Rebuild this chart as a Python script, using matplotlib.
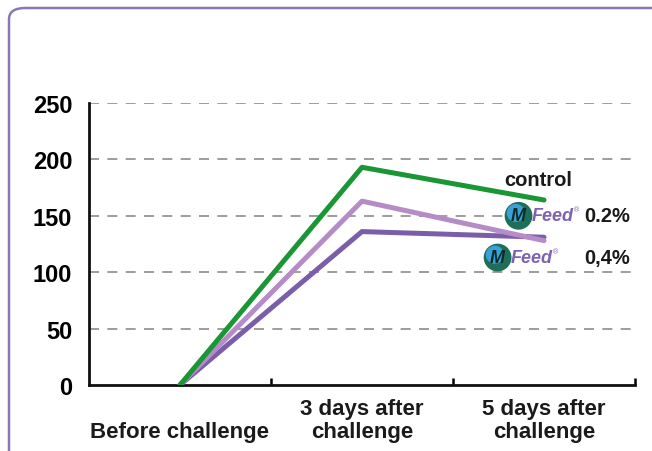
import matplotlib
matplotlib.use("Agg")
import matplotlib.pyplot as plt
from matplotlib.patches import FancyBboxPatch

plt.rcParams['font.family'] = ['Liberation Sans', 'DejaVu Sans']

categories = ["Before challenge", "3 days after\nchallenge", "5 days after\nchallenge"]
control = [0, 193, 164]
mfeed_02 = [0, 163, 128]
mfeed_04 = [0, 136, 131]
y_ticks = [0, 50, 100, 150, 200, 250]

W, H = 652, 452
fig = plt.figure(figsize=(W / 100, H / 100), dpi=100)

# rounded frame around the whole chart
frame = FancyBboxPatch((9 / W, -20 / H), (W + 20 - 9) / W, (H + 20 - 9) / H,
                       boxstyle="round,pad=0,rounding_size=0.025",
                       transform=fig.transFigure, fill=False,
                       edgecolor="#8a78b4", linewidth=1.8, clip_on=False)
fig.patches.append(frame)

ax_bottom, ax_top = 386, 104
ax = fig.add_axes([89 / W, (H - ax_bottom) / H, (635 - 89) / W, (ax_bottom - ax_top) / H])
x = list(range(len(categories)))

ax.set_xlim(-0.5, 2.5)
ax.set_ylim(0, 250)

for v in y_ticks[1:]:
    ax.axhline(v, xmax=0.995, color="#8c8c8c", linestyle=(0, (6, 5)), linewidth=1.2, zorder=1)

ax.plot(x, mfeed_04, color="#7a5ea9", linewidth=3.6, solid_capstyle="round", zorder=3)
ax.plot(x, mfeed_02, color="#b68cc8", linewidth=3.6, solid_capstyle="round", zorder=3)
ax.plot(x, control, color="#1a9634", linewidth=3.6, solid_capstyle="round", zorder=4)

for s in ["top", "right"]:
    ax.spines[s].set_visible(False)
for s in ["left", "bottom"]:
    ax.spines[s].set_linewidth(2)
    ax.spines[s].set_color("#111111")

ax.set_yticks(y_ticks)
ax.set_yticklabels([str(v) for v in y_ticks], fontsize=17, fontweight="bold")
ax.tick_params(axis="y", length=0, pad=12)

# category labels centred, tick marks on category boundaries
ax.set_xticks([0.5, 1.5, 2.5])
ax.set_xticklabels([])
ax.tick_params(axis="x", direction="in", length=5, width=1.8)


def px_to_axes_y(py):
    return (ax_bottom - py) / (ax_bottom - ax_top)


for xi, lab in zip(x, categories):
    lines = lab.split("\n")
    baselines = [438] if len(lines) == 1 else [415, 438]
    for line, by in zip(lines, baselines):
        ax.text(xi, px_to_axes_y(by), line, transform=ax.get_xaxis_transform(),
                ha="center", va="baseline", fontsize=16, fontweight="bold",
                color="#1a1a1a")

ax.text(1.97, 182, "control", ha="center", va="center", fontsize=14.5,
        fontweight="bold", color="#1a1a1a")

white = dict(facecolor="white", edgecolor="none", pad=1.5)


def logo(xc, yc, text_x):
    ax.scatter([xc], [yc], s=400, color="#1d6f5a", zorder=5, edgecolors="none")
    ax.scatter([xc - 0.015], [yc + 2.5], s=170, color="#3aa0d8", zorder=5, edgecolors="none")
    ax.text(xc, yc, "M", ha="center", va="center", fontsize=13, fontweight="bold",
            style="italic", color="#0d2b22", zorder=6)
    ax.text(text_x, yc, "Feed", ha="left", va="center", fontsize=13, fontweight="bold",
            style="italic", color="#7b62b0", zorder=6)
    ax.text(text_x + 0.235, yc + 5, "\u00ae", ha="left", va="center", fontsize=5,
            color="#7b62b0", zorder=6)


ax.text(2.22, 150, "0.2%", ha="left", va="center", fontsize=14.5, fontweight="bold",
        color="#1a1a1a", bbox=white, zorder=2)
ax.text(2.22, 113, "0,4%", ha="left", va="center", fontsize=14.5, fontweight="bold",
        color="#1a1a1a", bbox=white, zorder=2)
# blank out the gridline between the brand mark and its percentage
ax.axhspan(146, 154, xmin=(1.93 + 0.5) / 3, xmax=(2.22 + 0.5) / 3, color="white", zorder=2,
           linewidth=0)
ax.axhspan(109, 117, xmin=(1.815 + 0.5) / 3, xmax=(2.22 + 0.5) / 3, color="white", zorder=2,
           linewidth=0)
logo(1.86, 150, 1.93)
logo(1.745, 113, 1.815)

fig.savefig("out.png", dpi=100)
